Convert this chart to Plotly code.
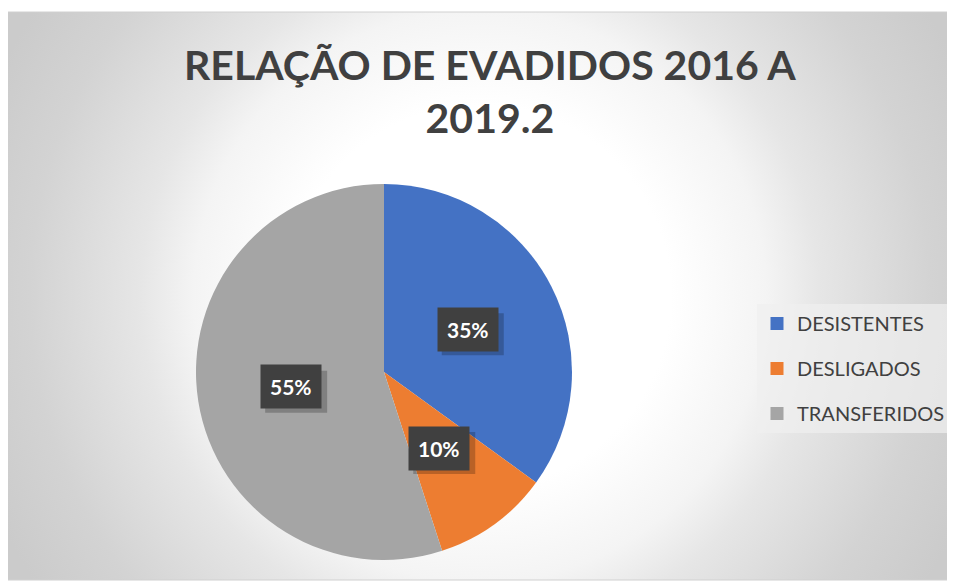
import base64
import math
import plotly.graph_objects as go

# data
labels = ['DESISTENTES', 'DESLIGADOS', 'TRANSFERIDOS']
values = [35, 10, 55]
colors = ['#4472C4', '#ED7D31', '#A5A5A5']
title_text = 'RELAÇÃO DE EVADIDOS 2016 A<br>2019.2'

# the page puts the figure 8px in from the top-left corner
OFF = 8
W, H = 955 - OFF, 583 - OFF


def px2x(px):
    return (px - OFF) / W


def px2y(py):
    return 1 - (py - OFF) / H


# pie placement (page pixels)
pie_cx, pie_cy, pie_r = 384, 372, 188
dom_x = [px2x(pie_cx - pie_r), px2x(pie_cx + pie_r)]
dom_y = [px2y(pie_cy + pie_r), px2y(pie_cy - pie_r)]

# chart area with an Excel-like radial gradient
area_x0, area_y0, area_x1, area_y1 = 6, 12, 955, 580
aw, ah = area_x1 - area_x0, area_y1 - area_y0
svg = ('<svg xmlns="http://www.w3.org/2000/svg" width="%d" height="%d" preserveAspectRatio="none">'
       '<defs><radialGradient id="g" gradientUnits="userSpaceOnUse" cx="%d" cy="%d" r="530">'
       '<stop offset="0" stop-color="#ffffff"/>'
       '<stop offset="0.36" stop-color="#ffffff"/>'
       '<stop offset="0.54" stop-color="#f4f4f4"/>'
       '<stop offset="0.64" stop-color="#e6e6e6"/>'
       '<stop offset="0.85" stop-color="#d3d3d3"/>'
       '<stop offset="1" stop-color="#cbcbcb"/>'
       '</radialGradient></defs>'
       '<rect width="%d" height="%d" fill="url(#g)"/></svg>') % (aw, ah, aw / 2, ah / 2, aw, ah)
bg_src = 'data:image/svg+xml;base64,' + base64.b64encode(svg.encode()).decode()

fig = go.Figure()
fig.add_trace(go.Pie(labels=labels, values=values, sort=False, direction='clockwise', rotation=0,
                     marker=dict(colors=colors, line=dict(width=0)), textinfo='none',
                     showlegend=False, domain=dict(x=dom_x, y=dom_y), hoverinfo='label+percent'))

# legend proxies so we can control the gap between entries
for lab, col in zip(labels, colors):
    fig.add_trace(go.Scatter(x=[None], y=[None], mode='markers', name=lab, legendgroup=lab,
                             marker=dict(symbol='square', size=13, color=col)))

shapes = [dict(type='rect', xref='paper', yref='paper', x0=px2x(area_x0), x1=px2x(area_x1) + 0.01,
               y0=px2y(area_y1), y1=px2y(area_y0), line=dict(color='#d0d0d0', width=1))]

# data labels in dark boxes, placed at half radius on the slice bisector
annotations = []
total = sum(values)
cum = 0
box_w, box_h, sh = 62, 42, 5
for v in values:
    mid = (cum + v / 2) / total * 2 * math.pi
    cum += v
    px = pie_cx + 0.5 * pie_r * math.sin(mid)
    py = pie_cy - 0.5 * pie_r * math.cos(mid)
    txt = '<b>%d%%</b>' % round(v / total * 100)
    # soft drop shadow behind the label box
    shapes.append(dict(type='rect', xref='paper', yref='paper', layer='above',
                       x0=px2x(px - box_w / 2 + sh), x1=px2x(px + box_w / 2 + sh),
                       y0=px2y(py + box_h / 2 + sh), y1=px2y(py - box_h / 2 + sh),
                       fillcolor='rgba(0,0,0,0.22)', line=dict(width=0)))
    annotations.append(dict(x=px2x(px), y=px2y(py), xref='paper', yref='paper', text=txt,
                            showarrow=False, bgcolor='#404040', borderpad=9,
                            xanchor='center', yanchor='middle',
                            font=dict(family='Lato', size=21, color='white')))

annotations.append(dict(x=px2x(490), y=px2y(91), xref='paper', yref='paper', text='<b>' + title_text + '</b>',
                        showarrow=False, font=dict(family='Lato', size=41, color='#404040'),
                        xanchor='center', yanchor='middle'))

fig.update_layout(
    width=W, height=H,
    margin=dict(l=0, r=0, t=0, b=0),
    paper_bgcolor='white', plot_bgcolor='rgba(0,0,0,0)',
    xaxis=dict(visible=False), yaxis=dict(visible=False),
    images=[dict(source=bg_src, xref='paper', yref='paper', x=px2x(area_x0), y=px2y(area_y0),
                 sizex=aw / W, sizey=ah / H, sizing='stretch', layer='below')],
    shapes=shapes,
    annotations=annotations,
    legend=dict(x=px2x(757), y=px2y(304), xanchor='left', yanchor='top',
                bgcolor='rgba(240,240,240,0.7)', tracegroupgap=16, traceorder='grouped',
                font=dict(family='Lato', size=20, color='#404040')),
)

fig.write_html('out.html')
